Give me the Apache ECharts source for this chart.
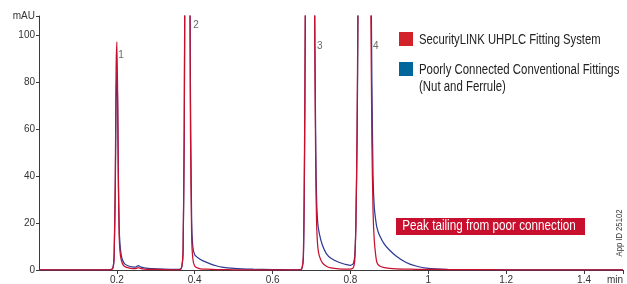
<!DOCTYPE html>
<html>
<head>
<meta charset="utf-8">
<script src="https://cdn.jsdelivr.net/npm/echarts@6/dist/echarts.min.js"></script>
<style>
html,body{margin:0;padding:0;background:#fff;}
#chart{width:627px;height:284px;}
</style>
</head>
<body>
<div id="chart"></div>
<script>
// Retention time (min)
const time = [0, 0.1, 0.17, 0.185, 0.19, 0.193, 0.196, 0.198, 0.2, 0.202, 0.204, 0.206, 0.208, 0.211, 0.215, 0.22, 0.23, 0.24, 0.248, 0.255, 0.262, 0.27, 0.29, 0.32, 0.35,
  0.363, 0.367, 0.37, 0.373, 0.375, 0.381, 0.387, 0.389, 0.392, 0.395, 0.4, 0.41, 0.42, 0.44, 0.455, 0.47, 0.5, 0.55, 0.6, 0.65,
  0.672, 0.676, 0.679, 0.681, 0.683, 0.685, 0.696, 0.706, 0.709, 0.711, 0.713, 0.716, 0.72, 0.728, 0.738, 0.75, 0.77, 0.79, 0.8,
  0.805, 0.808, 0.811, 0.814, 0.817, 0.819, 0.822, 0.835, 0.849, 0.852, 0.855, 0.858, 0.861, 0.865, 0.868, 0.874, 0.887, 0.9, 0.917, 0.943, 0.968,
  1.0, 1.05, 1.1, 1.2, 1.3, 1.4, 1.5];
// SecurityLINK UHPLC Fitting System (mAU)
const securityLink = [0.1, 0.1, 0.1, 0.2, 0.8, 6, 40, 85, 97, 75, 35, 14, 8, 4.5, 2.5, 1.5, 0.9, 0.6, 0.6, 1.0, 0.6, 0.4, 0.3, 0.2, 0.1,
  0.2, 1.5, 8, 60, 150, 400, 150, 60, 15, 5, 1.6, 0.7, 0.4, 0.3, 0.2, 0.2, 0.1, 0.1, 0.1, 0.1,
  0.2, 1, 6, 30, 80, 150, 500, 160, 80, 40, 20, 10, 6, 3, 1.6, 0.9, 0.5, 0.4, 0.4,
  0.6, 1.2, 4, 20, 60, 110, 200, 450, 200, 120, 55, 25, 13, 6, 3.2, 1.8, 1.0, 0.7, 0.5, 0.4, 0.3,
  0.25, 0.2, 0.15, 0.1, 0.1, 0.1, 0.1];
// Poorly Connected Conventional Fittings (mAU)
const poorlyConnected = [0.1, 0.1, 0.1, 0.2, 1.0, 6, 35, 72, 84, 70, 38, 18, 11, 6.5, 4, 2.6, 1.7, 1.3, 1.2, 1.9, 1.2, 0.9, 0.6, 0.4, 0.3,
  0.4, 1.5, 7, 55, 140, 380, 160, 75, 22, 10, 6.5, 5, 4, 2.6, 1.8, 1.2, 0.7, 0.35, 0.2, 0.1,
  0.2, 1, 5, 25, 70, 140, 480, 170, 90, 50, 30, 20, 15.5, 10.5, 7, 5, 3.3, 2.3, 2.0,
  2.3, 3, 6, 20, 55, 100, 190, 430, 220, 150, 80, 40, 27, 21, 18, 15, 11, 8.5, 6, 3.2, 1.7,
  0.7, 0.3, 0.15, 0.1, 0.1, 0.1, 0.1];
// Peak labels [time, mAU, text]
const peakLabels = [[0.211, 91.5, '1'], [0.4035, 104, '2'], [0.7215, 95, '3'], [0.865, 95, '4']];
// Axis ticks
const xTickValues = [0.2, 0.4, 0.6, 0.8, 1.0, 1.2, 1.4, 1.5];
const xTickLabels = ['0.2', '0.4', '0.6', '0.8', '1', '1.2', '1.4', 'min'];
const yTickValues = [0, 20, 40, 60, 80, 100, 108];
const yTickLabels = ['0', '20', '40', '60', '80', '100', 'mAU'];
const seriesNames = ['SecurityLINK UHPLC Fitting System', 'Poorly Connected Conventional Fittings'];

const pair = (vals) => time.map((t, i) => [t, vals[i]]);
const chart = echarts.init(document.getElementById('chart'));
const sans = '"Liberation Sans", Arial, sans-serif';
const axisColor = '#3a3a3a';

chart.setOption({
  animation: false,
  grid: {left: 39, right: 4, top: 16, bottom: 14, containLabel: false, outerBoundsMode: 'none'},
  xAxis: {
    type: 'value', min: 0, max: 1.5,
    axisLine: {show: true, onZero: false, lineStyle: {color: axisColor, width: 1}},
    axisTick: {show: true, length: 4, customValues: xTickValues, lineStyle: {color: axisColor}},
    axisLabel: {customValues: xTickValues, margin: 5, color: '#333', fontSize: 10, fontFamily: sans,
      alignMaxLabel: 'right',
      formatter: v => { const i = xTickValues.findIndex(x => Math.abs(x - v) < 1e-6); return i >= 0 ? xTickLabels[i] : ''; }},
    splitLine: {show: false}
  },
  yAxis: {
    type: 'value', min: 0, max: 108,
    axisLine: {show: true, lineStyle: {color: axisColor, width: 1}},
    axisTick: {show: true, length: 3, customValues: yTickValues, lineStyle: {color: axisColor}},
    axisLabel: {customValues: yTickValues, margin: 4, color: '#333', fontSize: 10, fontFamily: sans,
      formatter: v => { const i = yTickValues.indexOf(v); return i >= 0 ? yTickLabels[i] : ''; }},
    splitLine: {show: false}
  },
  series: [
    {name: seriesNames[1], type: 'line', data: pair(poorlyConnected), showSymbol: false, smooth: 0.2, clip: true,
      lineStyle: {color: '#2e3b94', width: 1.25}, itemStyle: {color: '#00669c'}, z: 2},
    {name: seriesNames[0], type: 'line', data: pair(securityLink), showSymbol: false, smooth: 0.2, clip: true,
      lineStyle: {color: '#c8102e', width: 1.25}, itemStyle: {color: '#d2232a'}, z: 3},
    {type: 'scatter', data: peakLabels, symbolSize: 0, silent: true, z: 4,
      label: {show: true, position: 'inside', formatter: p => p.value[2], color: '#444', fontSize: 10, fontFamily: sans}}
  ],
  graphic: [
    {type: 'rect', shape: {x: 399, y: 32, width: 14, height: 14}, style: {fill: '#d2232a'}},
    {type: 'text', x: 419, y: 40, scaleX: 0.805, style: {x: 0, y: 0, text: seriesNames[0], font: '14px ' + sans, fill: '#222', verticalAlign: 'middle'}},
    {type: 'rect', shape: {x: 399, y: 62, width: 14, height: 14}, style: {fill: '#00669c'}},
    {type: 'text', x: 419, y: 70, scaleX: 0.815, style: {x: 0, y: 0, text: seriesNames[1], font: '14px ' + sans, fill: '#222', verticalAlign: 'middle'}},
    {type: 'text', x: 419, y: 87, scaleX: 0.815, style: {x: 0, y: 0, text: '(Nut and Ferrule)', font: '14px ' + sans, fill: '#222', verticalAlign: 'middle'}},
    {type: 'rect', shape: {x: 396, y: 218, width: 189, height: 17}, style: {fill: '#c8102e'}},
    {type: 'text', x: 489, y: 226.5, scaleX: 0.835, style: {x: 0, y: 0, text: 'Peak tailing from poor connection', font: '14px ' + sans, fill: '#fff', align: 'center', verticalAlign: 'middle'}},
    {type: 'text', x: 620, y: 233, rotation: Math.PI / 2, scaleX: 0.85, style: {x: 0, y: 0, text: 'App ID 25102', font: '9px ' + sans, fill: '#333', align: 'center', verticalAlign: 'middle'}}
  ]
});
</script>
</body>
</html>
